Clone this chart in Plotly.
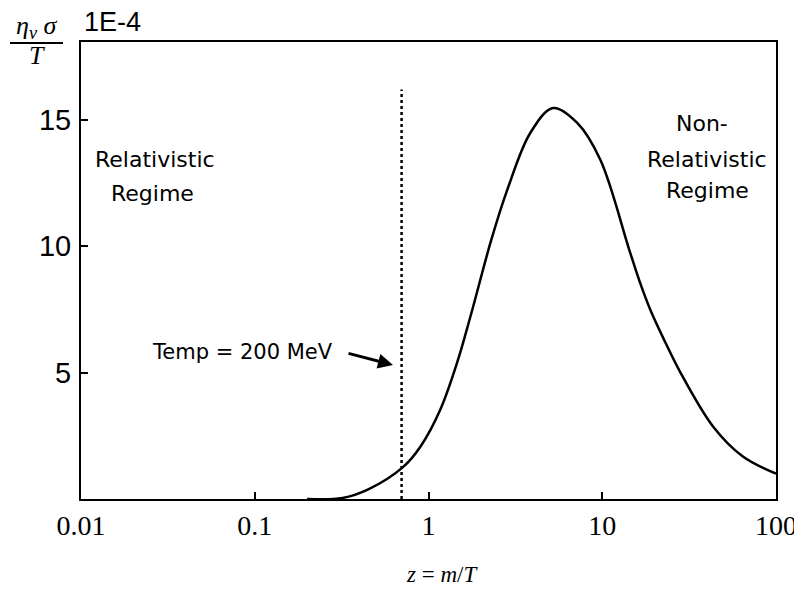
import plotly.graph_objects as go

# data
z_vals = [0.2, 0.32, 0.45, 0.71, 0.90, 1.17, 1.47, 1.74, 2.30, 2.84, 3.86, 5.22, 7.18, 9.75,
          14.3, 16.5, 18.9, 23.7, 28.1, 43.4, 64.5, 100]
eta_vals = [0.0, 0.04, 0.38, 1.25, 2.08, 3.54, 5.45, 7.2, 10.26, 12.23, 14.49, 15.47, 14.88, 13.42,
            9.86, 8.56, 7.49, 6.03, 5.02, 2.87, 1.68, 1.0]
temp_line_z = 0.7
temp_line_top = 16.2
x_tickvals = [0.01, 0.1, 1, 10, 100]
x_ticktext = ["0.01", "0.1", "1", "10", "100"]
y_tickvals = [5, 10, 15]
y_ticktext = ["5", "10", "15"]

OFF = 8  # page body margin
W, H = 802 - OFF, 594 - 2 * OFF
L, T = 81 - OFF, 42 - OFF
R = W - (776 - OFF)
B = H - (499 - OFF)
PW, PH = W - L - R, H - T - B


def px(x):
    return (x - OFF - L) / PW


def py(y):
    return (H - B - (y - OFF)) / PH


fig = go.Figure()
fig.add_trace(go.Scatter(x=z_vals, y=eta_vals, mode="lines",
                         line=dict(color="black", width=2.5, shape="spline", smoothing=1.0),
                         hoverinfo="skip", showlegend=False))
fig.add_trace(go.Scatter(x=[temp_line_z, temp_line_z], y=[0, temp_line_top], mode="lines",
                         line=dict(color="black", width=2.5, dash="dot"),
                         hoverinfo="skip", showlegend=False))

sans = "DejaVu Sans"
serif = "Liberation Serif"
ann = []


def txt(text, x, y, size, family=sans, xanchor="center"):
    ann.append(dict(text=text, x=px(x), y=py(y), xref="paper", yref="paper",
                    showarrow=False, xanchor=xanchor, yanchor="middle",
                    font=dict(family=family, size=size, color="black")))


txt("Relativistic", 155, 159, 22)
txt("Regime", 152, 193, 22)
txt("Non-", 702, 123, 22)
txt("Relativistic", 707, 159, 22)
txt("Regime", 707, 190, 22)
txt("Temp = 200 MeV", 242, 352, 21)
txt("1E-4", 112, 22, 27, family="Liberation Sans")
txt("<i>η<sub>v</sub> σ</i>", 36, 27, 26, family=serif)
txt("<i>T</i>", 37, 55, 26, family=serif)
txt("<i>z</i> = <i>m</i>/<i>T</i>", 442, 574, 23, family=serif)

ann.append(dict(text="", x=px(393), y=py(365), xref="paper", yref="paper",
                showarrow=True, ax=-46, ay=-12, arrowhead=2, arrowwidth=3,
                arrowsize=1, arrowcolor="black"))

fig.update_layout(
    width=W, height=H,
    margin=dict(l=L, r=R, t=T, b=B, autoexpand=False),
    paper_bgcolor="white", plot_bgcolor="white",
    annotations=ann,
    shapes=[dict(type="line", xref="paper", yref="paper",
                 x0=px(10), x1=px(63), y0=py(43), y1=py(43),
                 line=dict(color="black", width=2))],
    xaxis=dict(type="log", range=[-2, 2], tickvals=x_tickvals, ticktext=x_ticktext,
               ticks="inside", ticklen=7, tickwidth=2, tickcolor="black",
               showline=True, linewidth=2, linecolor="black", mirror=True,
               showgrid=False, zeroline=False, automargin=False,
               tickfont=dict(family=serif, size=28, color="black")),
    yaxis=dict(range=[0, 18.08], tickvals=y_tickvals, ticktext=y_ticktext,
               ticks="inside", ticklen=7, tickwidth=2, tickcolor="black",
               showline=True, linewidth=2, linecolor="black", mirror=True,
               showgrid=False, zeroline=False, ticklabelstandoff=2, automargin=False,
               tickfont=dict(family="Liberation Sans", size=29, color="black")),
)

fig.write_html("out.html")
